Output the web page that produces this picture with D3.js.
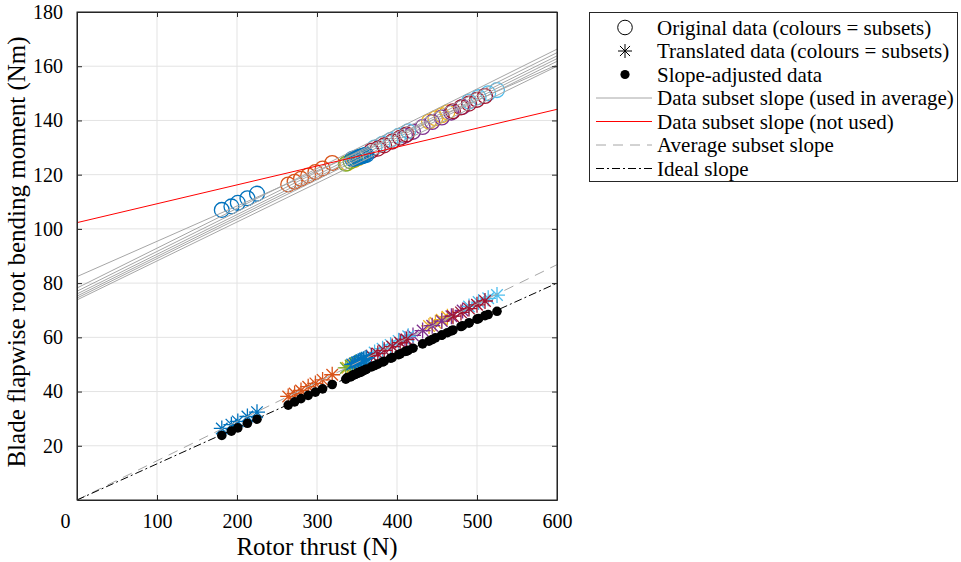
<!DOCTYPE html>
<html><head><meta charset="utf-8">
<script src="https://cdn.jsdelivr.net/npm/d3@7"></script>
<style>body{margin:0;background:#fff}svg{display:block}svg text{font-family:"Liberation Serif","Times New Roman",serif !important}</style>
</head><body><svg id="c" width="961" height="562"></svg>
<script>
// ---------- data ----------
const xTicks = [0, 100, 200, 300, 400, 500, 600];
const yTicks = [20, 40, 60, 80, 100, 120, 140, 160, 180];
const subsetColors = ["#0072BD", "#D95319", "#EDB120", "#7E2F8E", "#77AC30", "#4DBEEE", "#A2142F", "#0072BD"];
// rotor thrust (N) per subset
const thrust = [
  [181, 193, 201, 213, 225],
  [264, 272, 280, 289, 298, 307, 319],
  [338, 346, 352, 440, 448, 456, 463],
  [410, 420, 432, 444, 456, 468, 482],
  [336, 342, 348, 355],
  [372, 382, 392, 402, 414, 490, 502, 514, 525],
  [368, 376, 384, 394, 404, 412, 470, 480, 490, 500, 510],
  [344, 347, 350, 352, 354, 356, 358, 360, 362]
];
// original blade root bending moment (Nm)
const original = [
  [107.0, 108.3, 109.6, 111.3, 113.0],
  [116.4, 117.4, 118.5, 119.7, 121.0, 122.3, 124.3],
  [124.2, 125.3, 126.1, 139.6, 140.8, 141.9, 143.0],
  [134.4, 135.8, 137.6, 139.4, 141.1, 142.9, 145.0],
  [124.0, 124.9, 125.8, 126.8],
  [130.0, 131.4, 132.8, 134.3, 136.0, 147.0, 148.6, 150.0, 151.2],
  [128.8, 129.6, 130.8, 132.2, 133.6, 134.8, 143.4, 144.8, 146.2, 147.6, 149.0],
  [125.8, 126.0, 126.3, 126.5, 126.6, 126.8, 127.0, 127.2, 127.3]
];
// translated moment (Nm)
const translated = [
  [26.4, 27.8, 29.0, 30.8, 32.4],
  [38.2, 39.3, 40.4, 41.8, 43.0, 44.3, 46.2],
  [48.8, 49.9, 50.7, 64.2, 65.4, 66.5, 67.6],
  [59.3, 60.7, 62.5, 64.3, 66.0, 67.8, 69.9],
  [48.7, 49.6, 50.5, 51.5],
  [54.4, 55.8, 57.2, 58.7, 60.4, 71.4, 73.0, 74.4, 75.6],
  [53.2, 54.0, 55.2, 56.6, 58.0, 59.2, 67.8, 69.2, 70.6, 72.0, 73.4],
  [50.0, 50.3, 50.7, 51.0, 51.3, 51.6, 51.9, 52.2, 52.5]
];
// slope-adjusted moment (Nm)
const adjusted = [
  [23.8, 25.4, 26.6, 28.3, 29.8],
  [35.0, 36.2, 37.4, 38.6, 39.8, 41.0, 42.6],
  [45.2, 46.2, 47.0, 58.6, 59.8, 60.8, 61.7],
  [54.8, 56.0, 57.6, 59.2, 60.8, 62.4, 64.3],
  [44.6, 45.4, 46.3, 47.2],
  [49.6, 50.9, 52.3, 53.6, 55.2, 65.3, 66.9, 68.4, 69.6],
  [49.1, 50.1, 51.2, 52.5, 53.9, 54.9, 62.7, 64.0, 65.3, 66.7, 68.0],
  [45.9, 46.3, 46.7, 46.9, 47.2, 47.5, 47.7, 48.0, 48.3]
];
// subset slope lines: moment at thrust 0 and at thrust 600
const usedLineStart = [82.4, 78.2, 77.0, 76.0, 75.2, 74.5, 73.8];
const usedLineEnd   = [160.5, 166.3, 165.0, 163.8, 162.8, 161.8, 160.0];
const notUsedLineStart = [102.3];
const notUsedLineEnd   = [144.1];
const averageLine = [[0, 0], [600, 86.8]];
const idealLine   = [[0, 0], [600, 80.0]];
const legendLabels = ["Original data (colours = subsets)", "Translated data (colours = subsets)", "Slope-adjusted data",
  "Data subset slope (used in average)", "Data subset slope (not used)", "Average subset slope", "Ideal slope"];

// ---------- drawing ----------
const svg = d3.select("#c");
const x = d3.scaleLinear().domain([0, 600]).range([77, 557]);
const y = d3.scaleLinear().domain([0, 180]).range([500, 12]);

svg.append("defs").append("clipPath").attr("id", "clip")
  .append("rect").attr("x", 77).attr("y", 12).attr("width", 480).attr("height", 488);

// grid
const grid = svg.append("g");
grid.selectAll(".gx").data(xTicks).join("line")
  .attr("x1", d => x(d)).attr("x2", d => x(d)).attr("y1", y(0)).attr("y2", y(180))
  .attr("stroke", "#e3e3e3").attr("stroke-width", 1);
grid.selectAll(".gy").data(yTicks).join("line")
  .attr("y1", d => y(d)).attr("y2", d => y(d)).attr("x1", x(0)).attr("x2", x(600))
  .attr("stroke", "#e3e3e3").attr("stroke-width", 1);

const plot = svg.append("g").attr("clip-path", "url(#clip)");

// markers
subsetColors.forEach((col, i) => {
  const pts = thrust[i].map((t, j) => ({t, o: original[i][j]}));
  plot.append("g").selectAll("circle").data(pts).join("circle")
    .attr("cx", d => x(d.t)).attr("cy", d => y(d.o)).attr("r", 7.4)
    .attr("fill", "none").attr("stroke", col).attr("stroke-width", 1.3);
});
function star(g, cx, cy, r, col, w) {
  const k = r * 0.72;
  const p = `M${cx - r},${cy}L${cx + r},${cy}M${cx},${cy - r}L${cx},${cy + r}` +
    `M${cx - k},${cy - k}L${cx + k},${cy + k}M${cx - k},${cy + k}L${cx + k},${cy - k}`;
  g.append("path").attr("d", p).attr("stroke", col).attr("stroke-width", w).attr("fill", "none");
}
subsetColors.forEach((col, i) => {
  const g = plot.append("g");
  thrust[i].forEach((t, j) => star(g, x(t), y(translated[i][j]), 8, col, 1.3));
});
subsetColors.forEach((col, i) => {
  const pts = thrust[i].map((t, j) => ({t, a: adjusted[i][j]}));
  plot.append("g").selectAll("circle").data(pts).join("circle")
    .attr("cx", d => x(d.t)).attr("cy", d => y(d.a)).attr("r", 4.8).attr("fill", "#000");
});

// lines
usedLineStart.forEach((s, i) => {
  plot.append("line").attr("x1", x(0)).attr("y1", y(s)).attr("x2", x(600)).attr("y2", y(usedLineEnd[i]))
    .attr("stroke", "#a6a6a6").attr("stroke-width", 1);
});
notUsedLineStart.forEach((s, i) => {
  plot.append("line").attr("x1", x(0)).attr("y1", y(s)).attr("x2", x(600)).attr("y2", y(notUsedLineEnd[i]))
    .attr("stroke", "#ff0000").attr("stroke-width", 1);
});
const lg = d3.line().x(d => x(d[0])).y(d => y(d[1]));
plot.append("path").attr("d", lg(averageLine)).attr("stroke", "#a6a6a6").attr("fill", "none")
  .attr("stroke-width", 1).attr("stroke-dasharray", "10,7");
plot.append("path").attr("d", lg(idealLine)).attr("stroke", "#000").attr("fill", "none")
  .attr("stroke-width", 1).attr("stroke-dasharray", "8,3,2,3");

// axes
const fmt = d3.format("d");
const axB = svg.append("g").attr("transform", `translate(0,${y(0)})`)
  .call(d3.axisBottom(x).tickValues(xTicks).tickFormat(fmt).tickSizeInner(-5).tickSizeOuter(0).tickPadding(14));
const axT = svg.append("g").attr("transform", `translate(0,${y(180)})`)
  .call(d3.axisTop(x).tickValues(xTicks).tickFormat("").tickSizeInner(-5).tickSizeOuter(0));
const axL = svg.append("g").attr("transform", `translate(${x(0)},0)`)
  .call(d3.axisLeft(y).tickValues(yTicks).tickFormat(fmt).tickSizeInner(-5).tickSizeOuter(0).tickPadding(14));
const axR = svg.append("g").attr("transform", `translate(${x(600)},0)`)
  .call(d3.axisRight(y).tickValues(yTicks).tickFormat("").tickSizeInner(-5).tickSizeOuter(0));
[axB, axT, axL, axR].forEach(a => {
  a.attr("font-family", "Liberation Serif").attr("font-size", 20);
  a.select(".domain").attr("stroke", "#262626").attr("stroke-width", 1);
  a.selectAll(".tick line").attr("stroke", "#262626");
  a.selectAll("text").attr("fill", "#000");
});
axB.selectAll(".tick text").filter(d => d === 0).attr("dx", -12);
// full box
svg.append("rect").attr("x", x(0)).attr("y", y(180)).attr("width", x(600) - x(0)).attr("height", y(0) - y(180))
  .attr("fill", "none").attr("stroke", "#262626").attr("stroke-width", 1);

// axis labels
svg.append("text").attr("x", 317).attr("y", 555).attr("text-anchor", "middle")
  .attr("font-size", 25).text("Rotor thrust (N)");
svg.append("text").attr("transform", "translate(25,252) rotate(-90)").attr("text-anchor", "middle")
  .attr("font-size", 25).text("Blade flapwise root bending moment (Nm)");

// legend
const leg = svg.append("g");
leg.append("rect").attr("x", 589.5).attr("y", 12.5).attr("width", 368).attr("height", 169)
  .attr("fill", "#fff").attr("stroke", "#262626").attr("stroke-width", 1);
const rowY = d => 27.5 + d * 23.5;
legendLabels.forEach((t, i) => {
  leg.append("text").attr("x", 657).attr("y", rowY(i)).attr("dy", "0.35em")
    .attr("font-size", 21).text(t);
});
leg.append("circle").attr("cx", 625).attr("cy", rowY(0)).attr("r", 7.3).attr("fill", "none").attr("stroke", "#000").attr("stroke-width", 1);
star(leg, 625, rowY(1), 7, "#000", 1);
leg.append("circle").attr("cx", 625).attr("cy", rowY(2)).attr("r", 4.6).attr("fill", "#000");
const legLines = [["#a6a6a6", null], ["#ff0000", null], ["#a6a6a6", "10,7"], ["#000", "8,3,2,3"]];
legLines.forEach((l, k) => {
  const ln = leg.append("line").attr("x1", 596).attr("x2", 652).attr("y1", rowY(3 + k)).attr("y2", rowY(3 + k))
    .attr("stroke", l[0]).attr("stroke-width", 1);
  if (l[1]) ln.attr("stroke-dasharray", l[1]);
});
</script></body></html>
